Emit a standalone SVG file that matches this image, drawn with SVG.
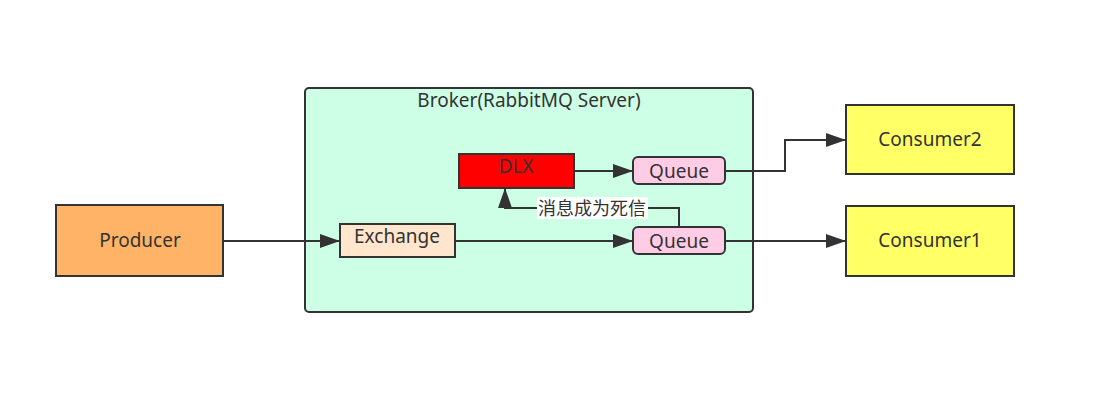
<svg xmlns="http://www.w3.org/2000/svg" width="1118" height="402" viewBox="0 0 1118 402">
<defs>
<style>
.box{stroke:#333;stroke-width:2}
.t{font-family:"Noto Sans","Noto Sans CJK SC",sans-serif;font-size:19px;fill:#333;text-anchor:middle;dominant-baseline:central}
.cn{font-size:18px}
.c{fill:none;stroke:#333;stroke-width:2}
</style>
<marker id="ah" viewBox="0 0 20 14" refX="20" refY="7" markerWidth="20" markerHeight="14" markerUnits="userSpaceOnUse" orient="auto">
<path d="M0,0 L20,7 L0,14 Z" fill="#333"/>
</marker>
</defs>
<rect width="1118" height="402" fill="#fff"/>
<g id="broker">
<rect class="box" x="305" y="88" width="448" height="224" rx="4" fill="#ccffe6"/>
<text class="t" x="529" y="100">Broker(RabbitMQ Server)</text>
</g>
<g id="producer">
<rect class="box" x="56" y="205" width="167" height="71" fill="#ffb366"/>
<text class="t" x="140" y="240">Producer</text>
</g>
<g id="exchange">
<rect class="box" x="340" y="224" width="115" height="33" fill="#ffe6cc"/>
<text class="t" x="397" y="236">Exchange</text>
</g>
<g id="dlx">
<rect class="box" x="459" y="154" width="115" height="34" fill="#ff0000"/>
<text class="t" x="516" y="166">DLX</text>
</g>
<g id="queue1">
<rect class="box" x="633" y="157" width="92" height="27" rx="5" fill="#ffcce6"/>
<text class="t" x="679" y="171">Queue</text>
</g>
<g id="queue2">
<rect class="box" x="633" y="227" width="92" height="27" rx="5" fill="#ffcce6"/>
<text class="t" x="679" y="241">Queue</text>
</g>
<g id="consumer2">
<rect class="box" x="846" y="105" width="168" height="69" fill="#ffff66"/>
<text class="t" x="930" y="139">Consumer2</text>
</g>
<g id="consumer1">
<rect class="box" x="846" y="206" width="168" height="70" fill="#ffff66"/>
<text class="t" x="930" y="240">Consumer1</text>
</g>
<g id="connectors">
<path class="c" d="M223,241 H340" marker-end="url(#ah)"/>
<path class="c" d="M455,241 H633" marker-end="url(#ah)"/>
<path class="c" d="M574,171 H633" marker-end="url(#ah)"/>
<path class="c" d="M679,227 V208 H505 V188" marker-end="url(#ah)"/>
<rect x="537" y="197" width="111" height="22" fill="#fff"/>
<text class="t cn" x="592" y="208">消息成为死信</text>
<path class="c" d="M725,171 H785 V140 H846" marker-end="url(#ah)"/>
<path class="c" d="M725,241 H846" marker-end="url(#ah)"/>
</g>
</svg>
